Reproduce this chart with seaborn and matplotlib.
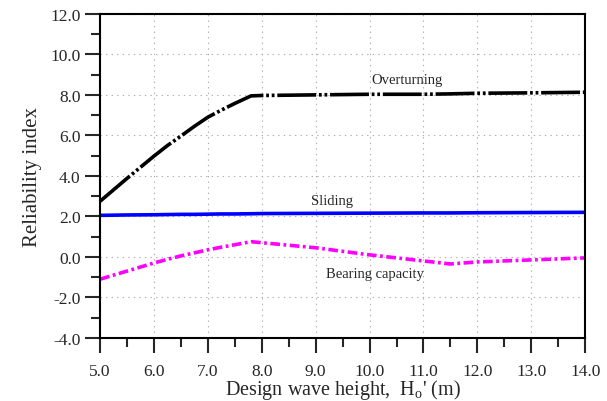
import numpy as np
import pandas as pd
import matplotlib
matplotlib.use("Agg")
import matplotlib.pyplot as plt
import seaborn as sns
from matplotlib.ticker import MultipleLocator, FormatStrFormatter

sns.set_style("white")
plt.rcParams['font.family'] = ['Liberation Serif', 'DejaVu Serif']
plt.rcParams['mathtext.fontset'] = 'custom'
plt.rcParams['mathtext.rm'] = 'Liberation Serif'
plt.rcParams['mathtext.it'] = 'Liberation Serif'
plt.rcParams['lines.scale_dashes'] = False

wave_height = [5.0, 5.5, 6.0, 6.25, 6.5, 6.75, 7.0, 7.25, 7.5, 7.8, 8.0, 9.0, 10.0, 11.0, 11.5, 12.0, 13.0, 14.0]
overturning = [2.75, 3.88, 4.98, 5.5, 5.97, 6.45, 6.9, 7.25, 7.58, 7.95, 7.97, 8.0, 8.03, 8.03, 8.05, 8.08, 8.1, 8.13]
sliding = [2.05, 2.07, 2.08, 2.09, 2.1, 2.1, 2.11, 2.12, 2.12, 2.13, 2.14, 2.15, 2.16, 2.17, 2.17, 2.18, 2.19, 2.2]
bearing = [-1.1, -0.7, -0.3, -0.12, 0.05, 0.2, 0.35, 0.48, 0.6, 0.75, 0.7, 0.45, 0.1, -0.2, -0.35, -0.25, -0.15, -0.05]

df = pd.DataFrame({"H": wave_height, "Overturning": overturning,
                   "Sliding": sliding, "Bearing capacity": bearing})

fig = plt.figure(figsize=(6.07, 4.02), dpi=100)
ax = fig.add_axes([0.165, 0.157, 0.799, 0.806])

sns.lineplot(data=df, x="H", y="Overturning", ax=ax, color="black", lw=2.6)
sns.lineplot(data=df, x="H", y="Sliding", ax=ax, color="#0000ff", lw=2.6)
sns.lineplot(data=df, x="H", y="Bearing capacity", ax=ax, color="#ff00ff", lw=2.6)
lines = ax.get_lines()
lines[0].set_dashes([28, 2, 2, 2, 2, 2])
lines[2].set_dashes([7, 2.5, 2, 2.5])

ax.set_xlim(5, 14)
ax.set_ylim(-4, 12)
ax.xaxis.set_major_locator(MultipleLocator(1))
ax.xaxis.set_minor_locator(MultipleLocator(0.5))
ax.yaxis.set_major_locator(MultipleLocator(2))
ax.yaxis.set_minor_locator(MultipleLocator(1))
ax.xaxis.set_major_formatter(FormatStrFormatter('%.1f'))
ax.yaxis.set_major_formatter(FormatStrFormatter('%.1f'))
ax.tick_params(axis='both', which='major', direction='out', length=11, width=1.5,
               labelsize=12.5, bottom=True, left=True, pad=3)
ax.tick_params(axis='both', which='minor', direction='out', length=6.5, width=1.5,
               bottom=True, left=True)
ax.tick_params(axis='x', which='major', pad=7)
ax.grid(True, which='major', linestyle=(0, (1, 3)), color='#b0b0b0', lw=0.8)
for s in ax.spines.values():
    s.set_linewidth(1.5)
    s.set_color('black')

ax.set_xlabel("Design wave height,  H$_\\mathregular{o}$' (m)", fontsize=14.5, labelpad=-1)
ax.set_ylabel("Reliability index", fontsize=15, labelpad=6)

ax.text(10.7, 8.74, "Overturning", ha='center', va='center', fontsize=10.5)
ax.text(9.3, 2.77, "Sliding", ha='center', va='center', fontsize=10.5)
ax.text(10.1, -0.84, "Bearing capacity", ha='center', va='center', fontsize=10.5)

fig.savefig("out.png", dpi=100)
